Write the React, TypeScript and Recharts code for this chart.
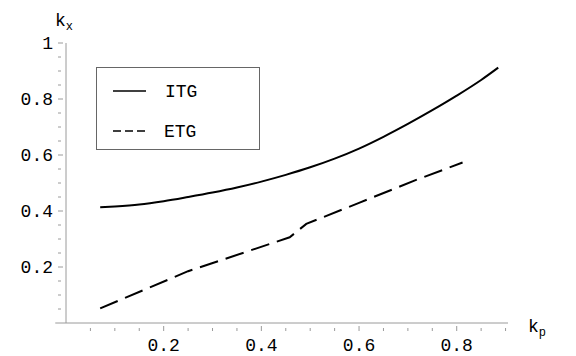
import { LineChart, Line, XAxis, YAxis, ReferenceLine } from "recharts";

const itgKp = [0.07, 0.1, 0.15, 0.2, 0.25, 0.3, 0.35, 0.4, 0.45, 0.5, 0.55, 0.6, 0.65, 0.7, 0.75, 0.8, 0.85, 0.885];
const itgKx = [0.413, 0.416, 0.423, 0.435, 0.45, 0.466, 0.484, 0.505, 0.529, 0.556, 0.587, 0.623, 0.665, 0.711, 0.76, 0.812, 0.868, 0.912];

const etgKp = [0.07, 0.25, 0.458, 0.492, 0.6, 0.717, 0.812];
const etgKx = [0.052, 0.185, 0.306, 0.354, 0.429, 0.511, 0.573];

const xTicks = [0.05, 0.1, 0.15, 0.2, 0.25, 0.3, 0.35, 0.4, 0.45, 0.5, 0.55, 0.6, 0.65, 0.7, 0.75, 0.8, 0.85, 0.9];
const yTicks = [0.05, 0.1, 0.15, 0.2, 0.25, 0.3, 0.35, 0.4, 0.45, 0.5, 0.55, 0.6, 0.65, 0.7, 0.75, 0.8, 0.85, 0.9, 0.95, 1];
const labelled = [0.2, 0.4, 0.6, 0.8, 1];
const seriesNames = ["ITG", "ETG"];

const itgData = itgKp.map((kp, i) => ({ kp, kx: itgKx[i] }));
const etgData = etgKp.map((kp, i) => ({ kp, kx: etgKx[i] }));

const FONT = "'Liberation Mono', 'DejaVu Sans Mono', monospace";
const AXIS = "#9a9a9a";

const isMajor = (v: number) => labelled.some((m) => Math.abs(m - v) < 1e-6);
const fmt = (v: number) => (Math.abs(v - 1) < 1e-6 ? "1" : v.toFixed(1));

function XTick(props: any) {
  const { x, y, payload } = props;
  const major = isMajor(payload.value);
  return (
    <g>
      <line x1={x} x2={x} y1={y} y2={y - (major ? 5 : 3)} stroke={AXIS} />
      {major && (
        <text x={x} y={y + 20} textAnchor="middle" fontFamily={FONT} fontSize={18} fill="#000">
          {fmt(payload.value)}
        </text>
      )}
    </g>
  );
}

function YTick(props: any) {
  const { x, y, payload } = props;
  const major = isMajor(payload.value);
  return (
    <g>
      <line x1={x} x2={x + (major ? 5 : 3)} y1={y} y2={y} stroke={AXIS} />
      {major && (
        <text x={x - 5} y={y + 6} textAnchor="end" fontFamily={FONT} fontSize={18} fill="#000">
          {fmt(payload.value)}
        </text>
      )}
    </g>
  );
}

export default function App() {
  return (
    <div style={{ position: "absolute", left: 0, top: 0, width: 576, height: 356, background: "#fff" }}>
      <LineChart width={576} height={356} margin={{ top: 43, right: 68, bottom: 0, left: 0 }}>
        <XAxis
          type="number"
          dataKey="kp"
          domain={[0, 0.905]}
          ticks={xTicks}
          interval={0}
          allowDataOverflow
          axisLine={{ stroke: AXIS }}
          tickLine={false}
          tick={<XTick />}
          height={33}
        />
        <YAxis
          type="number"
          dataKey="kx"
          domain={[0, 1]}
          ticks={yTicks}
          interval={0}
          axisLine={{ stroke: AXIS }}
          tickLine={false}
          tick={<YTick />}
          width={66}
        />
        <ReferenceLine
          segment={[{ x: -0.022, y: 0 }, { x: 0, y: 0 }]}
          stroke={AXIS}
          ifOverflow="visible"
        />
        <Line
          data={itgData}
          dataKey="kx"
          name={seriesNames[0]}
          type="monotone"
          stroke="#000"
          strokeWidth={2}
          dot={false}
          isAnimationActive={false}
        />
        <Line
          data={etgData}
          dataKey="kx"
          name={seriesNames[1]}
          type="linear"
          stroke="#000"
          strokeWidth={2}
          strokeDasharray="19 8"
          dot={false}
          isAnimationActive={false}
        />
        {/* legend box */}
        <g>
          <rect x={96.5} y={67.5} width={163} height={82} fill="#fff" stroke="#666" />
          <line x1={113} x2={146} y1={91} y2={91} stroke="#000" strokeWidth={1.3} />
          <line x1={113} x2={146} y1={131} y2={131} stroke="#000" strokeWidth={1.3} strokeDasharray="8 4" />
          <text x={165} y={97} fontFamily={FONT} fontSize={18} fill="#000">{seriesNames[0]}</text>
          <text x={164} y={137} fontFamily={FONT} fontSize={18} fill="#000">{seriesNames[1]}</text>
        </g>
        <text x={55} y={26} fontFamily={FONT} fontSize={18} fill="#000">
          k
          <tspan fontSize={12} dy={4}>x</tspan>
        </text>
        <text x={528} y={332} fontFamily={FONT} fontSize={18} fill="#000">
          k
          <tspan fontSize={12} dy={4}>p</tspan>
        </text>
      </LineChart>
    </div>
  );
}
